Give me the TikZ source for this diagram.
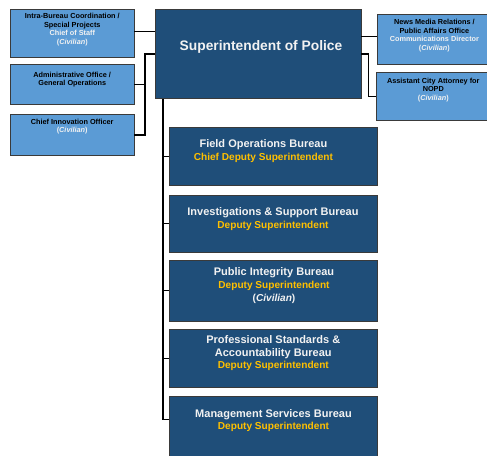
\documentclass[tikz,border=0pt]{standalone}
\usepackage{fontspec}
\setmainfont{Liberation Sans}
\definecolor{navy}{HTML}{1F4E79}
\definecolor{sky}{HTML}{5B9BD5}
\definecolor{gold}{HTML}{FFC000}
\definecolor{edge}{HTML}{3A3A3A}
\definecolor{paleText}{HTML}{F2F2F2}
\begin{document}
\begin{tikzpicture}[x=1pt,y=-1pt,
  box/.style={rectangle, draw=edge, line width=0.9pt, inner sep=0pt, outer sep=0pt},
  staffbox/.style={box, fill=sky},
  bureaubox/.style={box, fill=navy},
  smalltxt/.style={align=center, inner sep=0pt, font=\fontsize{7.3}{8.5}\selectfont\bfseries},
  bigtxt/.style={align=center, inner sep=0pt, text=paleText, font=\fontsize{11}{12.8}\selectfont\bfseries},
  role/.style={text=gold},
  link/.style={draw=black, line width=1.2pt}
]
\clip (0,0) rectangle (487,455);
\fill[white] (0,0) rectangle (487,455);

% staff offices on the left
\node[staffbox, minimum width=124.3pt, minimum height=48pt]   (cos) at (72.2,33.3)  {};
\node[staffbox, minimum width=124.3pt, minimum height=39.3pt] (adm) at (72.2,84.35) {};
\node[staffbox, minimum width=124.3pt, minimum height=41.4pt] (cio) at (72.2,135)   {};

% superintendent
\node[bureaubox, minimum width=206pt, minimum height=89.4pt] (sup) at (258,54) {};

% staff offices on the right
\node[staffbox, minimum width=113.7pt, minimum height=49.3pt] (news) at (434.2,39.35) {};
\node[staffbox, minimum width=115pt,   minimum height=47.3pt] (ata)  at (433.5,96.35) {};

% bureaus
\node[bureaubox, minimum width=208.4pt, minimum height=57.7pt] (b1) at (273.5,156.15) {};
\node[bureaubox, minimum width=208.4pt, minimum height=57.7pt] (b2) at (273.5,223.85) {};
\node[bureaubox, minimum width=208.4pt, minimum height=61.7pt] (b3) at (273.5,290.85) {};
\node[bureaubox, minimum width=208.4pt, minimum height=58.4pt] (b4) at (273.5,358.5)  {};
\node[bureaubox, minimum width=208.4pt, minimum height=62pt]   (b5) at (273.5,427)    {};

% labels
\node[smalltxt] (cosT) at (72.3,29.7) {Intra-Bureau Coordination /\\Special Projects\\
  \textcolor{paleText}{Chief of Staff}\\\textcolor{paleText}{(\textit{Civilian})}};
\node[smalltxt] (admT) at (72.2,79.8) {Administrative Office /\\General Operations};
\node[smalltxt] (cioT) at (72.2,126.5) {Chief Innovation Officer\\\textcolor{paleText}{(\textit{Civilian})}};
\node[smalltxt] (newsT) at (434.4,35.6) {News Media Relations /\\Public Affairs Office\\
  \textcolor{paleText}{Communications Director}\\\textcolor{paleText}{(\textit{Civilian})}};
\node[smalltxt] (ataT) at (433.3,90.1) {Assistant City Attorney for\\NOPD\\\textcolor{paleText}{(\textit{Civilian})}};

\node[inner sep=0pt, text=paleText, font=\fontsize{13.8}{16}\selectfont\bfseries] (supT) at (261,46.7) {Superintendent of Police};

\node[bigtxt] (b1T) at (263.4,150.7) {Field Operations Bureau\\
  {\color{gold}\fontsize{10.1}{12.8}\selectfont Chief Deputy Superintendent}};
\node[bigtxt] (b2T) at (273,218.7) {Investigations \& Support Bureau\\
  {\color{gold}\fontsize{10.1}{12.8}\selectfont Deputy Superintendent}};
\node[bigtxt] (b3T) at (274,285.3) {Public Integrity Bureau\\
  {\color{gold}\fontsize{10.1}{12.8}\selectfont Deputy Superintendent}\\
  {\fontsize{10.1}{12}\selectfont(\textit{Civilian})}};
\node[bigtxt] (b4T) at (273.3,353.2) {Professional Standards \&\\Accountability Bureau\\
  {\color{gold}\fontsize{10.1}{12.8}\selectfont Deputy Superintendent}};
\node[bigtxt] (b5T) at (273.5,420.5) {Management Services Bureau\\
  {\color{gold}\fontsize{10.1}{12.8}\selectfont Deputy Superintendent}};

% connectors, left side
\draw[link] ([yshift=22.3pt]sup.west) coordinate (l1) -- (l1 -| cos.east);
\draw[link] (sup.west) -- ++(-10,0) coordinate (lb) |- (cio.east);
\draw[link] (lb |- adm.east) -- (adm.east);

% connectors, right side
\draw[link] ([yshift=17.3pt]sup.east) coordinate (r1) -- (r1 -| news.west);
\draw[link] (sup.east) -- ++(7.3,0) |- (ata.west);

% trunk to the bureaus
\coordinate (t5) at ([yshift=7.7pt]b5.west);
\draw[link] ([xshift=8pt]sup.south west) coordinate (tk) -- (tk |- t5) -- (t5);
\draw[link] (tk |- b1.west) -- (b1.west);
\draw[link] (tk |- b2.west) -- (b2.west);
\draw[link] (tk |- b3.west) -- (b3.west);
\draw[link] (tk |- b4.west) -- (b4.west);
\end{tikzpicture}
\end{document}
